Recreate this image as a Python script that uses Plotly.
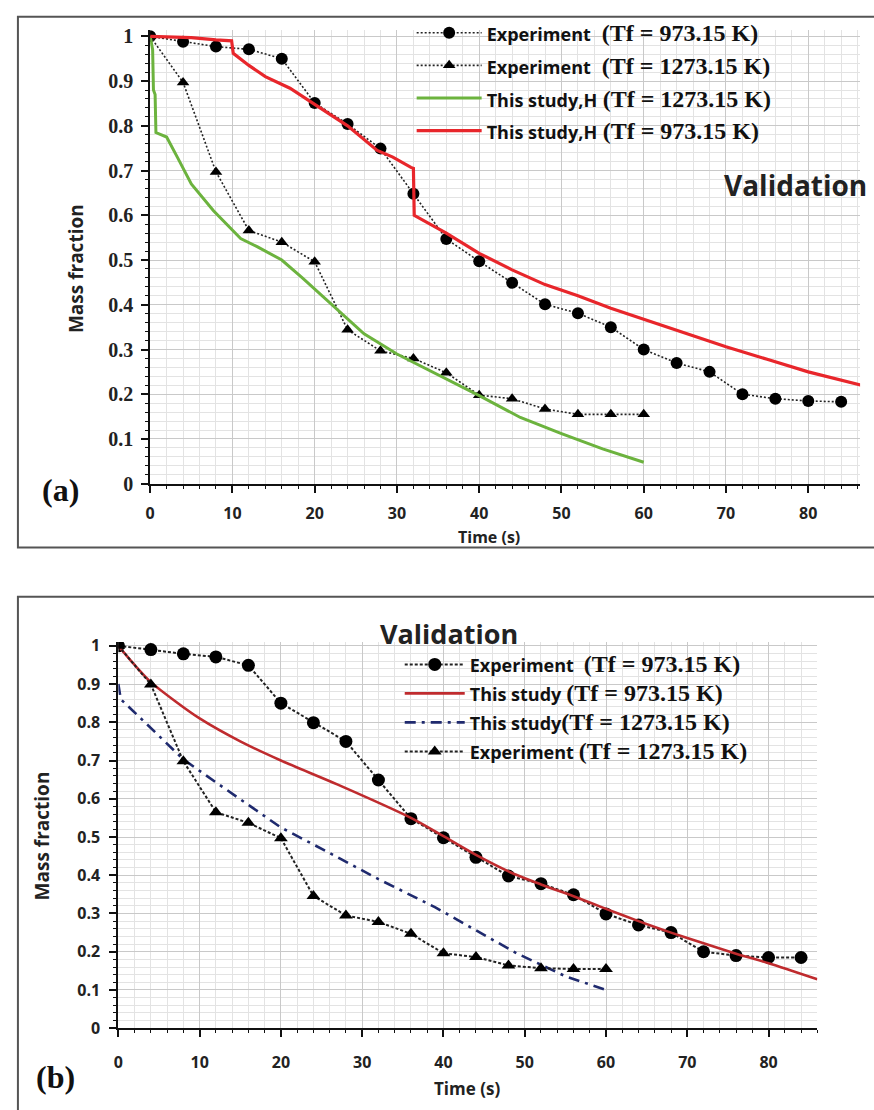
import plotly.graph_objects as go

W, H = 874, 1110

# ---------------- Data: panel (a) ----------------
t_exp_a = [0, 4, 8, 12, 16, 20, 24, 28, 32, 36, 40, 44, 48, 52, 56, 60, 64, 68, 72, 76, 80, 84]
m_exp973_a = [1.0, 0.988, 0.977, 0.971, 0.95, 0.851, 0.804, 0.749, 0.648, 0.547, 0.497, 0.449,
              0.401, 0.381, 0.35, 0.30, 0.27, 0.25, 0.20, 0.19, 0.185, 0.183]
t_exp1273_a = [0, 4, 8, 12, 16, 20, 24, 28, 32, 36, 40, 44, 48, 52, 56, 60]
m_exp1273_a = [1.0, 0.897, 0.697, 0.566, 0.540, 0.496, 0.344, 0.297, 0.280, 0.248, 0.198, 0.19,
               0.167, 0.155, 0.155, 0.155]
t_green_a = [0, 0.3, 0.4, 0.6, 0.7, 2, 3.3, 5, 7.7, 11, 13, 16, 18.5, 20, 23.4, 26, 30, 35, 40,
             45, 50, 55, 60]
m_green_a = [1.0, 0.97, 0.88, 0.87, 0.785, 0.775, 0.73, 0.67, 0.61, 0.548, 0.53, 0.50, 0.46,
             0.435, 0.378, 0.335, 0.29, 0.243, 0.197, 0.148, 0.112, 0.078, 0.048]
t_red_a = [0, 5, 8, 9.9, 10.1, 12, 14, 17, 20, 24, 27.6, 29.5, 31.7, 32.0, 32.1, 36, 40, 44, 48,
           52, 56, 60, 65, 70, 75, 80, 86.5]
m_red_a = [1.0, 0.997, 0.992, 0.99, 0.962, 0.935, 0.91, 0.884, 0.848, 0.80, 0.745, 0.73, 0.707,
           0.705, 0.60, 0.56, 0.515, 0.478, 0.445, 0.42, 0.392, 0.367, 0.336, 0.306, 0.278, 0.25, 0.22]

# ---------------- Data: panel (b) ----------------
t_exp_b = [0, 4, 8, 12, 16, 20, 24, 28, 32, 36, 40, 44, 48, 52, 56, 60, 64, 68, 72, 76, 80, 84]
m_exp973_b = [1.0, 0.99, 0.979, 0.971, 0.949, 0.85, 0.799, 0.75, 0.649, 0.548, 0.498, 0.447,
              0.398, 0.378, 0.349, 0.299, 0.27, 0.25, 0.20, 0.19, 0.185, 0.185]
t_exp1273_b = [0, 4, 8, 12, 16, 20, 24, 28, 32, 36, 40, 44, 48, 52, 56, 60]
m_exp1273_b = [1.0, 0.899, 0.698, 0.565, 0.537, 0.497, 0.346, 0.295, 0.278, 0.247, 0.196, 0.186,
               0.164, 0.157, 0.155, 0.155]
t_red_b = [0, 2, 4, 7, 10, 15, 20, 27, 36, 40, 44, 48, 52, 56, 60, 64, 68, 72, 76, 80, 86]
m_red_b = [1.0, 0.95, 0.905, 0.855, 0.81, 0.75, 0.70, 0.637, 0.55, 0.502, 0.453, 0.41, 0.376,
           0.345, 0.312, 0.28, 0.25, 0.222, 0.195, 0.17, 0.128]
t_blue_b = [0, 0.3, 1.3, 4, 8, 12, 16, 20, 26, 32, 39, 44, 49, 55, 60]
m_blue_b = [0.9, 0.86, 0.84, 0.785, 0.703, 0.643, 0.583, 0.525, 0.458, 0.39, 0.316, 0.257,
            0.196, 0.136, 0.10]

x_ticks = [0, 10, 20, 30, 40, 50, 60, 70, 80]
y_ticks = [0, 0.1, 0.2, 0.3, 0.4, 0.5, 0.6, 0.7, 0.8, 0.9, 1]


def px(p):
    return p / W


def py(p):
    return 1 - p / H


SANS = "Open Sans"
SERIF = "Liberation Serif"


def lab(name, temp, name_size, pad, tsize):
    return ('<span style="font-family:Open Sans;font-size:%dpx">%s</span>%s'
            '<span style="font-size:%dpx">(Tf = %s K)</span>'
            % (name_size, name, "\u00a0" * pad, tsize, temp))


fig = go.Figure()

dotline = dict(color="#222", width=1.6, dash="2px,2px")

# Panel (a)
fig.add_trace(go.Scatter(x=t_exp_a, y=m_exp973_a, mode="lines+markers",
                         name=lab("Experiment", "973.15", 18, 2, 24), legend="legend", legendgroup="a1",
                         line=dotline, marker=dict(symbol="circle", size=12, color="#000")))
fig.add_trace(go.Scatter(x=t_exp1273_a, y=m_exp1273_a, mode="lines+markers",
                         name=lab("Experiment", "1273.15", 18, 2, 24), legend="legend", legendgroup="a2",
                         line=dotline, marker=dict(symbol="triangle-up", size=11, color="#000")))
fig.add_trace(go.Scatter(x=t_green_a, y=m_green_a, mode="lines",
                         name=lab("This study,H", "1273.15", 18, 1, 24), legend="legend", legendgroup="a3",
                         line=dict(color="#6cb33e", width=3)))
fig.add_trace(go.Scatter(x=t_red_a, y=m_red_a, mode="lines",
                         name=lab("This study,H", "973.15", 18, 1, 24), legend="legend", legendgroup="a4",
                         line=dict(color="#e8262b", width=3.2)))

# Panel (b)
dotline_b = dict(color="#222", width=2, dash="3px,2px")
fig.add_trace(go.Scatter(x=t_exp_b, y=m_exp973_b, mode="lines+markers", xaxis="x2", yaxis="y2",
                         name=lab("Experiment", "973.15", 18, 2, 24), legend="legend2", legendgroup="b1",
                         line=dotline_b, marker=dict(symbol="circle", size=13, color="#000")))
fig.add_trace(go.Scatter(x=t_red_b, y=m_red_b, mode="lines", xaxis="x2", yaxis="y2",
                         name=lab("This study", "973.15", 18, 1, 24), legend="legend2", legendgroup="b2",
                         line=dict(color="#bf2b2e", width=2.6, shape="spline", smoothing=0.8)))
fig.add_trace(go.Scatter(x=t_blue_b, y=m_blue_b, mode="lines", xaxis="x2", yaxis="y2",
                         name=lab("This study", "1273.15", 18, 0, 24), legend="legend2", legendgroup="b3",
                         line=dict(color="#1f2a6e", width=2.6, dash="11px,6px,3px,6px")))
fig.add_trace(go.Scatter(x=t_exp1273_b, y=m_exp1273_b, mode="lines+markers", xaxis="x2", yaxis="y2",
                         name=lab("Experiment", "1273.15", 18, 1, 24), legend="legend2", legendgroup="b4",
                         line=dotline_b, marker=dict(symbol="triangle-up", size=12, color="#000")))


def axis_style(minor_dtick, tickfont, standoff):
    return dict(
        showline=True, linecolor="#111", linewidth=2,
        ticks="outside", ticklen=7, tickwidth=1.5, tickcolor="#111",
        showgrid=True, gridcolor="#c9c9c9", gridwidth=1, zeroline=False,
        minor=dict(ticks="outside", ticklen=3, tickwidth=1.2, tickcolor="#111",
                   showgrid=True, gridcolor="#e3e3e3", gridwidth=1, dtick=minor_dtick),
        tickfont=tickfont, ticklabelstandoff=standoff, fixedrange=True,
    )


def overlay_ticks(base, anchor, rng, major, minor_dtick):
    return dict(overlaying=base, anchor=anchor, range=rng, tickvals=major,
                showgrid=False, zeroline=False, showline=False, showticklabels=False,
                ticks="inside", ticklen=6, tickwidth=1.5, tickcolor="#111", fixedrange=True,
                minor=dict(ticks="inside", ticklen=4, tickwidth=1.2, tickcolor="#111",
                           showgrid=False, dtick=minor_dtick))


xa = axis_style(2, dict(family=SANS, size=16, color="#222", weight="bold"), 7)
xa.update(domain=[px(146), px(860)], range=[0, 86.3], tickvals=x_ticks, anchor="y")
ya = axis_style(0.02, dict(family=SERIF, size=20, color="#222", weight="bold"), 4)
ya.update(domain=[py(484), py(22)], range=[0, 1.015], tickvals=y_ticks, anchor="x")

xb = axis_style(2, dict(family=SANS, size=16, color="#222", weight="bold"), 12)
xb.update(domain=[px(114), px(817)], range=[0, 86], tickvals=x_ticks, anchor="y2")
yb = axis_style(0.02, dict(family=SANS, size=16, color="#222", weight="bold"), 6)
yb.update(domain=[py(1038), py(645)], range=[0, 1.01], tickvals=y_ticks, anchor="x2")

legend_common = dict(bgcolor="rgba(0,0,0,0)", borderwidth=0, xanchor="left", yanchor="top",
                     itemclick=False, itemdoubleclick=False)

fig.update_layout(
    width=W, height=H,
    margin=dict(l=0, r=0, t=0, b=0),
    paper_bgcolor="white", plot_bgcolor="white",
    showlegend=True,
    xaxis=xa, yaxis=ya, xaxis2=xb, yaxis2=yb,
    xaxis3=overlay_ticks("x", "y", [0, 86.3], x_ticks, 2),
    yaxis3=overlay_ticks("y", "x", [0, 1.015], y_ticks, 0.01),
    xaxis4=overlay_ticks("x2", "y2", [0, 86], x_ticks, 2),
    yaxis4=overlay_ticks("y2", "x2", [0, 1.01], y_ticks, 0.01),
    legend=dict(x=px(409), y=py(4), tracegroupgap=1, itemwidth=65,
                font=dict(family=SERIF, size=22, color="#111", weight="bold"), **legend_common),
    legend2=dict(x=px(397), y=py(648), tracegroupgap=0, itemwidth=60,
                 font=dict(family=SERIF, size=20, color="#111", weight="bold"), **legend_common),
    shapes=[
        dict(type="rect", xref="paper", yref="paper", x0=px(13), x1=px(880), y0=py(9), y1=py(549),
             line=dict(color="#555", width=2), layer="below"),
        dict(type="rect", xref="paper", yref="paper", x0=px(13), x1=px(880), y0=py(599), y1=py(1150),
             line=dict(color="#555", width=2), layer="below"),
    ],
    annotations=[
        dict(text="Validation", xref="paper", yref="paper", x=px(795), y=py(180), showarrow=False,
             xanchor="center", yanchor="middle",
             font=dict(family=SANS, size=28, color="#222", weight="bold")),
        dict(text="Validation", xref="paper", yref="paper", x=px(447), y=py(636), showarrow=False,
             xanchor="center", yanchor="middle",
             font=dict(family=SANS, size=27, color="#222", weight="bold")),
        dict(text="Mass fraction", xref="paper", yref="paper", x=px(72), y=py(265), showarrow=False,
             xanchor="center", yanchor="middle", textangle=-90,
             font=dict(family=SANS, size=19, color="#222", weight="bold")),
        dict(text="Mass fraction", xref="paper", yref="paper", x=px(37), y=py(842), showarrow=False,
             xanchor="center", yanchor="middle", textangle=-90,
             font=dict(family=SANS, size=19, color="#222", weight="bold")),
        dict(text="Time (s)", xref="paper", yref="paper", x=px(487), y=py(538), showarrow=False,
             xanchor="center", yanchor="middle",
             font=dict(family=SANS, size=16, color="#222", weight="bold")),
        dict(text="Time (s)", xref="paper", yref="paper", x=px(465), y=py(1099), showarrow=False,
             xanchor="center", yanchor="middle",
             font=dict(family=SANS, size=17, color="#222", weight="bold")),
        dict(text="(a)", xref="paper", yref="paper", x=px(56), y=py(490), showarrow=False,
             xanchor="center", yanchor="middle",
             font=dict(family=SERIF, size=32, color="#111", weight="bold")),
        dict(text="(b)", xref="paper", yref="paper", x=px(51), y=py(1088), showarrow=False,
             xanchor="center", yanchor="middle",
             font=dict(family=SERIF, size=32, color="#111", weight="bold")),
    ],
)

fig.write_html("out.html")
